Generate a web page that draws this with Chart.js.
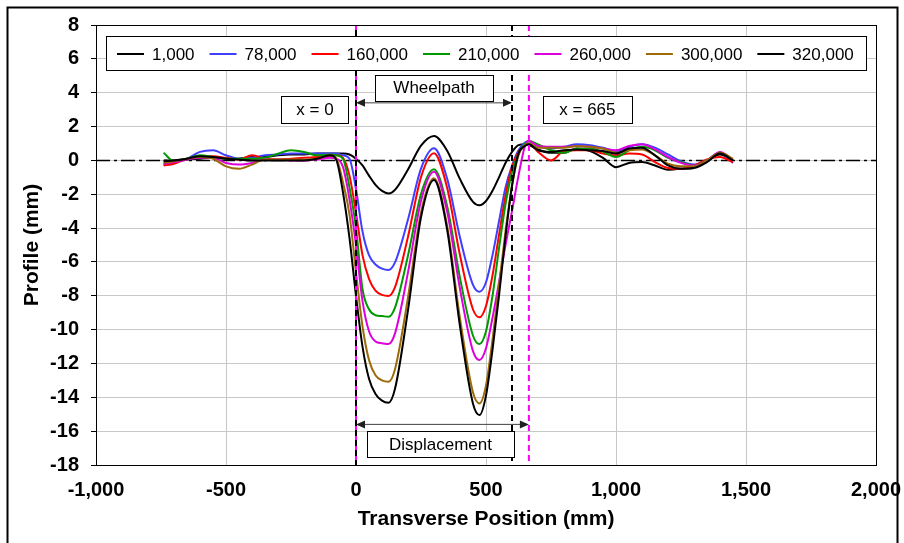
<!DOCTYPE html>
<html>
<head>
<meta charset="utf-8">
<script src="https://cdn.jsdelivr.net/npm/chart.js@4.4.1/dist/chart.umd.min.js"></script>
<style>
  html, body { margin: 0; padding: 0; background: #fff; }
</style>
</head>
<body>
<canvas id="profileChart" width="904" height="543"></canvas>
<script>
// transverse positions (mm) shared by every pass count
const positions = [-740,-700,-650,-600,-550,-500,-450,-400,-350,-300,-250,-200,-150,-100,-75,-50,-25,
  0,25,50,75,100,125,150,200,250,300,350,400,450,475,500,525,550,575,600,625,650,665,
  700,750,800,850,900,950,1000,1050,1100,1150,1200,1250,1300,1350,1400,1450];

const passLabels = ['1,000', '78,000', '160,000', '210,000', '260,000', '300,000', '320,000'];
const passColors = ['#000000', '#3f3fff', '#ff0000', '#009a00', '#dd00dd', '#9c6a08', '#000000'];

const profile1k = [0.0,0.0,0.05,0.1,0.15,0.1,0.1,0.2,0.2,0.3,0.35,0.35,0.4,0.4,0.4,0.4,0.35,
  0.1,-0.3,-0.9,-1.45,-1.8,-1.95,-1.74,-0.54,0.87,1.44,0.59,-1.11,-2.45,-2.65,-2.4,-1.8,-1.0,-0.15,0.5,0.9,0.95,0.9,
  0.65,0.45,0.45,0.7,0.55,0.15,-0.4,-0.15,-0.1,-0.3,-0.55,-0.5,-0.4,-0.05,0.35,0.0];
const profile78k = [-0.25,-0.15,0.1,0.5,0.6,0.3,0.1,0.15,0.3,0.35,0.4,0.4,0.4,0.4,0.4,0.3,0.1,
  -1.7,-4.2,-5.6,-6.15,-6.4,-6.48,-6.03,-3.49,-0.49,0.71,-1.05,-4.56,-7.35,-7.76,-7.2,-5.6,-3.6,-1.6,-0.3,0.6,1.05,1.15,
  0.85,0.7,0.8,0.95,0.9,0.75,0.55,0.8,0.95,0.75,0.35,-0.05,-0.25,0.0,0.45,-0.15];
const profile160k = [-0.3,-0.2,0.1,0.25,0.25,0.15,0.05,0.3,0.1,0.05,0.1,0.15,0.2,0.25,0.3,0.15,-0.9,
  -3.1,-5.6,-7.0,-7.7,-7.95,-8.01,-7.49,-4.51,-0.99,0.42,-1.59,-5.61,-8.81,-9.27,-8.6,-6.8,-4.4,-2.1,-0.4,0.5,0.9,1.0,
  0.5,0.0,0.55,0.6,0.6,0.4,0.3,0.4,0.35,-0.1,-0.45,-0.5,-0.3,0.05,0.2,-0.1];
const profile210k = [0.45,-0.05,0.1,0.3,0.2,0.1,0.1,0.1,0.15,0.4,0.6,0.5,0.3,0.35,0.3,0.1,-1.6,
  -4.0,-7.6,-8.8,-9.15,-9.2,-9.24,-8.7,-5.62,-1.99,-0.53,-2.67,-6.95,-10.36,-10.85,-10.1,-8.0,-5.2,-2.6,-0.7,0.4,1.0,1.15,
  0.95,0.6,0.45,0.7,0.7,0.5,0.2,0.6,0.8,0.6,0.15,-0.1,-0.3,0.0,0.45,0.0];
const profile260k = [-0.2,-0.1,0.05,0.15,0.15,-0.15,-0.25,-0.15,0.05,0.05,0.0,0.0,0.05,0.15,0.1,-0.4,-2.3,
  -5.0,-8.3,-10.1,-10.7,-10.8,-10.85,-10.22,-6.62,-2.38,-0.67,-2.98,-7.6,-11.27,-11.8,-11.1,-9.3,-7.2,-5.0,-3.0,-0.9,0.85,1.15,
  0.85,0.8,0.8,0.85,0.8,0.7,0.6,0.85,0.95,0.65,0.2,-0.15,-0.3,0.0,0.5,0.05];
const profile300k = [-0.15,-0.05,0.1,0.2,0.1,-0.35,-0.5,-0.25,0.05,0.05,0.05,0.05,0.1,0.3,0.1,-1.3,-3.2,
  -6.6,-9.8,-11.8,-12.7,-13.0,-13.08,-12.34,-8.09,-3.07,-1.06,-3.82,-9.34,-13.72,-14.36,-13.3,-10.6,-7.4,-4.2,-1.5,0.3,0.9,1.0,
  0.75,0.75,0.75,0.85,0.8,0.7,0.45,0.6,0.65,0.3,-0.2,-0.35,-0.35,0.0,0.45,0.1];
const profile320k = [-0.05,0.0,0.1,0.25,0.2,0.1,0.05,0.0,0.0,0.0,0.0,0.0,0.1,0.3,0.0,-1.9,-4.6,
  -8.0,-11.0,-12.9,-13.8,-14.2,-14.32,-13.5,-8.85,-3.36,-1.16,-4.04,-9.81,-14.38,-15.05,-13.9,-11.2,-8.0,-4.5,-1.5,0.4,0.85,0.95,
  0.6,0.5,0.6,0.65,0.6,0.55,0.4,0.7,0.75,0.3,-0.3,-0.5,-0.45,-0.1,0.4,0.0];

const profiles = [profile1k, profile78k, profile160k, profile210k, profile260k, profile300k, profile320k];

// reference marks (mm): wheelpath edge and displacement edge
const wheelpathEnd = 600;
const displacementEnd = 665;

const FONT = "'Liberation Sans', Arial, sans-serif";

function fmt(v) {
  return Number(v).toLocaleString('en-US');
}

function arrow(ctx, x1, x2, y) {
  ctx.save();
  ctx.strokeStyle = '#404040';
  ctx.fillStyle = '#202020';
  ctx.lineWidth = 1;
  ctx.beginPath();
  ctx.moveTo(x1 + 2, y);
  ctx.lineTo(x2 - 2, y);
  ctx.stroke();
  [[x1, 1], [x2, -1]].forEach(([px, dir]) => {
    ctx.beginPath();
    ctx.moveTo(px, y);
    ctx.lineTo(px + dir * 9, y - 4);
    ctx.lineTo(px + dir * 9, y + 4);
    ctx.closePath();
    ctx.fill();
  });
  ctx.restore();
}

function textBox(ctx, cx, cy, w, h, text) {
  ctx.save();
  ctx.fillStyle = '#fff';
  ctx.strokeStyle = '#000';
  ctx.lineWidth = 1;
  const l = Math.round(cx - w / 2) + 0.5, t = Math.round(cy - h / 2) + 0.5;
  ctx.fillRect(l, t, w, h);
  ctx.strokeRect(l, t, w, h);
  ctx.fillStyle = '#000';
  ctx.font = '17px ' + FONT;
  ctx.textAlign = 'center';
  ctx.textBaseline = 'middle';
  ctx.fillText(text, cx, cy + 1);
  ctx.restore();
}

function vline(ctx, px, top, bottom, color, dash, offset) {
  ctx.save();
  ctx.strokeStyle = color;
  ctx.lineWidth = 2;
  ctx.setLineDash(dash);
  ctx.lineDashOffset = offset || 0;
  ctx.beginPath();
  ctx.moveTo(px, top);
  ctx.lineTo(px, bottom);
  ctx.stroke();
  ctx.restore();
}

const overlay = {
  id: 'overlay',
  beforeDatasetsDraw(chart) {
    const { ctx, chartArea: a, scales: { y } } = chart;
    const y0 = Math.round(y.getPixelForValue(0)) + 0.5;
    ctx.save();
    ctx.strokeStyle = '#000';
    ctx.lineWidth = 1.5;
    ctx.setLineDash([14, 4, 3, 4]);
    ctx.beginPath();
    ctx.moveTo(a.left, y0);
    ctx.lineTo(a.right, y0);
    ctx.stroke();
    ctx.restore();
  },
  afterDatasetsDraw(chart) {
    const { ctx, chartArea: a, scales: { x, y } } = chart;
    const x0 = x.getPixelForValue(0);
    const xw = x.getPixelForValue(wheelpathEnd);
    const xd = x.getPixelForValue(displacementEnd);

    vline(ctx, x0, a.top, a.bottom, '#ff00ff', [6, 4], 0);
    vline(ctx, x0, a.top, a.bottom, '#000', [6, 4], 5);
    vline(ctx, xw, a.top, a.bottom, '#000', [6, 4], 0);
    vline(ctx, xd, a.top, a.bottom, '#ff00ff', [6, 4], 0);

    arrow(ctx, x0, xw, y.getPixelForValue(3.4));
    arrow(ctx, x0, xd, y.getPixelForValue(-15.6));

    textBox(ctx, x.getPixelForValue(-158), y.getPixelForValue(3.0), 67, 27, 'x = 0');
    textBox(ctx, x.getPixelForValue(300), y.getPixelForValue(4.3), 118, 26, 'Wheelpath');
    textBox(ctx, x.getPixelForValue(890), y.getPixelForValue(3.0), 89, 27, 'x = 665');
    textBox(ctx, x.getPixelForValue(325), y.getPixelForValue(-16.75), 147, 26, 'Displacement');

    // plot frame
    ctx.save();
    ctx.strokeStyle = '#000';
    ctx.lineWidth = 1;
    ctx.strokeRect(Math.round(a.left) + 0.5, Math.round(a.top) + 0.5, Math.round(a.width), Math.round(a.height));
    ctx.restore();
  },
  afterDraw(chart) {
    const { ctx } = chart;
    ctx.save();
    // legend
    ctx.fillStyle = '#fff';
    ctx.fillRect(106.5, 36.5, 760, 34);
    ctx.strokeStyle = '#000';
    ctx.lineWidth = 1;
    ctx.strokeRect(106.5, 36.5, 760, 34);
    ctx.font = '17px ' + FONT;
    ctx.textBaseline = 'middle';
    let lx = 117;
    const ly = 54;
    chart.data.datasets.forEach(ds => {
      ctx.strokeStyle = ds.borderColor;
      ctx.lineWidth = 2;
      ctx.beginPath();
      ctx.moveTo(lx, ly);
      ctx.lineTo(lx + 27, ly);
      ctx.stroke();
      ctx.fillStyle = '#000';
      ctx.fillText(ds.label, lx + 35, ly + 1);
      lx += 35 + ctx.measureText(ds.label).width + 15;
    });
    // outer frame
    ctx.strokeStyle = '#000';
    ctx.strokeRect(7.5, 7.5, 890, 545);
    ctx.restore();
  }
};

new Chart(document.getElementById('profileChart'), {
  type: 'line',
  data: {
    datasets: profiles.map((vals, i) => ({
      label: passLabels[i],
      data: positions.map((p, k) => ({ x: p, y: vals[k] })),
      borderColor: passColors[i],
      borderWidth: 2,
      pointRadius: 0,
      cubicInterpolationMode: 'monotone',
      order: -i
    }))
  },
  options: {
    responsive: false,
    animation: false,
    layout: { padding: { left: 8, top: 25, right: 28, bottom: 0 } },
    plugins: { legend: { display: false }, tooltip: { enabled: false } },
    scales: {
      x: {
        type: 'linear',
        min: -1000,
        max: 2000,
        afterFit: s => { s.height = 78; s.paddingLeft = 0; s.paddingRight = 0; },
        ticks: {
          stepSize: 500,
          color: '#000',
          padding: 13,
          maxRotation: 0,
          font: { family: FONT, size: 20, weight: 'bold' },
          callback: v => fmt(v)
        },
        grid: { color: '#c8c8c8', drawTicks: false },
        border: { color: '#000', width: 1 },
        title: {
          display: true,
          text: 'Transverse Position (mm)',
          color: '#000',
          font: { family: FONT, size: 21, weight: 'bold' },
          padding: { top: 0, bottom: 11 }
        }
      },
      y: {
        min: -18,
        max: 8,
        afterFit: s => { s.width = 88; s.paddingTop = 0; s.paddingBottom = 0; },
        ticks: {
          stepSize: 2,
          color: '#000',
          padding: 12,
          font: { family: FONT, size: 20, weight: 'bold' },
          callback: v => fmt(v)
        },
        grid: { color: '#c8c8c8', tickColor: '#000', tickLength: 5 },
        border: { color: '#000', width: 1 },
        title: {
          display: true,
          text: 'Profile (mm)',
          color: '#000',
          font: { family: FONT, size: 21, weight: 'bold' },
          padding: { top: 12, bottom: 0 }
        }
      }
    }
  },
  plugins: [overlay]
});
</script>
</body>
</html>
